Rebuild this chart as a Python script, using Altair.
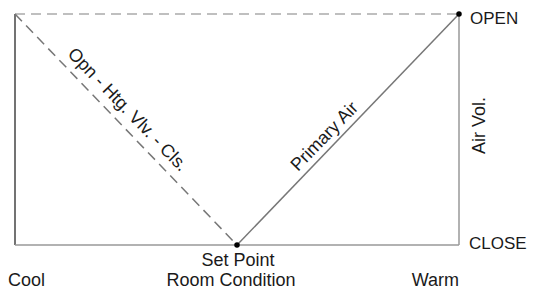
import altair as alt
import pandas as pd

# Segments of the diagram (data coordinates: x 0=Cool .. 2=Warm, y 0=CLOSE .. 1=OPEN)
seg_names = ["left", "bottom", "right", "top", "valve", "primary"]
seg_x1 = [0, 0, 2, 0, 0, 1]
seg_y1 = [0, 0, 0, 1, 1, 0]
seg_x2 = [0, 2, 2, 2, 1, 2]
seg_y2 = [1, 0, 1, 1, 0, 1]

point_x = [1, 2]
point_y = [0, 1]

# labels
bottom_labels = ["Cool", "Room Condition", "Warm"]
bottom_x = [0, 1, 2]
right_labels = ["OPEN", "CLOSE"]
right_y = [1, 0]
set_point_label = "Set Point"
axis_title_right = "Air Vol."
valve_label = "Opn - Htg. Vlv. - Cls."
valve_label_pos = [0.505, 0.584]
primary_label = "Primary Air"
primary_label_pos = [1.396, 0.468]

FONT = "Liberation Sans"
FS = 18
TXT = "#1a1a1a"

seg_df = pd.DataFrame({"name": seg_names, "x1": seg_x1, "y1": seg_y1, "x2": seg_x2, "y2": seg_y2})
xs = alt.Scale(domain=[0, 2], nice=False, zero=False)
ys = alt.Scale(domain=[0, 1], nice=False, zero=False)


def rule(names, color, dash=None, width=1.5):
    kw = dict(color=color, strokeWidth=width)
    if dash:
        kw["strokeDash"] = dash
    return (
        alt.Chart(seg_df)
        .transform_filter(alt.FieldOneOfPredicate(field="name", oneOf=names))
        .mark_rule(**kw)
        .encode(
            x=alt.X("x1:Q", scale=xs, axis=None),
            y=alt.Y("y1:Q", scale=ys, axis=None),
            x2="x2:Q",
            y2="y2:Q",
        )
    )


def text(labels, xv, yv, **kw):
    df = pd.DataFrame({"t": labels, "x": xv, "y": yv})
    base = dict(font=FONT, fontSize=FS, color=TXT)
    base.update(kw)
    return alt.Chart(df).mark_text(**base).encode(
        x=alt.X("x:Q", scale=xs, axis=None),
        y=alt.Y("y:Q", scale=ys, axis=None),
        text="t:N",
    )


layers = [
    rule(["left"], "#444444"),
    rule(["bottom", "right"], "#999999"),
    rule(["top"], "#aaaaaa", dash=[10, 6]),
    rule(["valve"], "#777777", dash=[10, 6]),
    rule(["primary"], "#777777"),
    alt.Chart(pd.DataFrame({"x": point_x, "y": point_y}))
    .mark_circle(size=30, color="black", opacity=1)
    .encode(x=alt.X("x:Q", scale=xs, axis=None), y=alt.Y("y:Q", scale=ys, axis=None)),
    text([bottom_labels[0]], [bottom_x[0]], [0], align="left", baseline="alphabetic", dx=-7, dy=41),
    text([bottom_labels[1]], [bottom_x[1]], [0], align="center", baseline="alphabetic", dx=-6, dy=41),
    text([bottom_labels[2]], [bottom_x[2]], [0], align="right", baseline="alphabetic", dx=0, dy=41),
    text([set_point_label], [1], [0], align="center", baseline="alphabetic", dx=1, dy=21),
    text([right_labels[0]], [2], [right_y[0]], align="left", baseline="middle", dx=11, dy=5, fontSize=17),
    text([right_labels[1]], [2], [right_y[1]], align="left", baseline="middle", dx=10, dy=-1, fontSize=17),
    text([axis_title_right], [2], [0.5], align="center", baseline="middle", angle=270, dx=4, dy=21),
    text([valve_label], [valve_label_pos[0]], [valve_label_pos[1]], align="center", baseline="middle", angle=46),
    text([primary_label], [primary_label_pos[0]], [primary_label_pos[1]], align="center", baseline="middle", angle=314),
]

chart = (
    alt.layer(*layers)
    .properties(
        width=444,
        height=231,
        autosize=alt.AutoSizeParams(type="none"),
        padding={"left": 7, "top": 6, "right": 68, "bottom": 46},
    )
    .configure_view(stroke=None)
)

chart.save("out.html", embed_options={"renderer": "svg", "actions": False})
